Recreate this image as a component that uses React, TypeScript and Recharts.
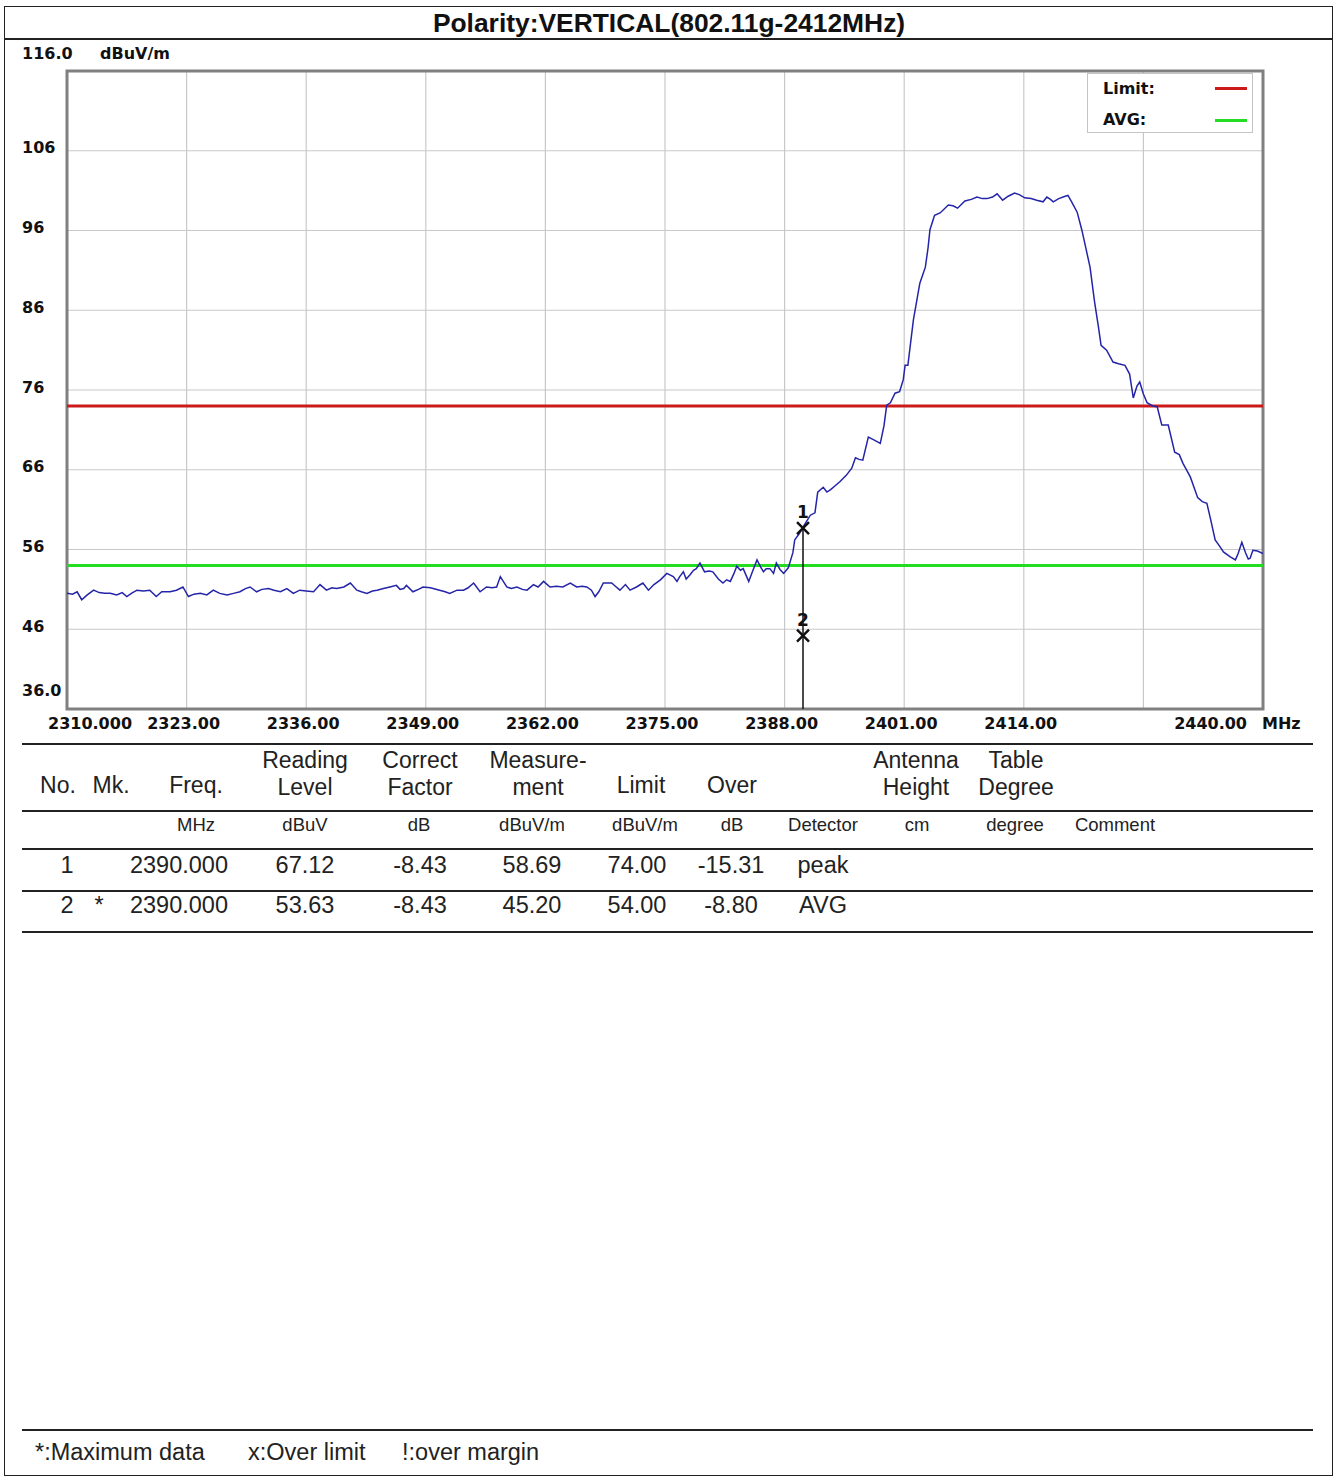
import {
  CartesianGrid,
  ComposedChart,
  Line,
  ReferenceArea,
  ReferenceLine,
  Scatter,
  XAxis,
  YAxis,
} from "recharts";

// trace (MHz, dBuV/m)
const traceFreq = [
  2310.0, 2310.6, 2311.1, 2311.6, 2312.2, 2312.9, 2313.5, 2314.1, 2314.7, 2315.4,
  2316.0, 2316.5, 2317.0, 2317.6, 2318.3, 2319.0, 2319.7, 2320.3, 2321.2, 2321.9,
  2322.6, 2323.2, 2323.8, 2324.5, 2325.2, 2325.9, 2326.6, 2327.4, 2328.1, 2328.8,
  2329.4, 2329.9, 2330.6, 2331.2, 2331.9, 2332.5, 2333.2, 2333.9, 2334.6, 2335.3,
  2336.0, 2336.8, 2337.5, 2338.2, 2338.8, 2339.3, 2340.1, 2340.8, 2341.5, 2342.0,
  2342.6, 2343.2, 2343.7, 2344.4, 2345.1, 2345.8, 2346.2, 2346.6, 2346.9, 2347.6,
  2348.2, 2348.7, 2349.5, 2350.5, 2351.1, 2351.6, 2352.4, 2353.1, 2353.6, 2354.2,
  2354.9, 2355.6, 2356.2, 2356.7, 2357.1, 2357.8, 2358.3, 2358.9, 2359.5, 2360.0,
  2360.7, 2361.2, 2361.8, 2362.5, 2363.2, 2363.9, 2364.7, 2365.4, 2366.0, 2366.5,
  2367.0, 2367.4, 2367.8, 2368.3, 2369.2, 2369.7, 2370.1, 2370.7, 2371.2, 2371.9,
  2372.6, 2373.2, 2373.8, 2374.5, 2375.2, 2375.9, 2376.3, 2376.6, 2377.0, 2377.3,
  2377.7, 2378.1, 2378.4, 2378.8, 2379.3, 2379.8, 2380.2, 2380.8, 2381.3, 2381.7,
  2382.1, 2382.5, 2382.8, 2383.2, 2383.5, 2384.1, 2384.5, 2385.0, 2385.4, 2385.7,
  2386.0, 2386.4, 2386.8, 2387.1, 2387.5, 2387.9, 2388.4, 2388.9, 2389.1, 2389.6,
  2390.0, 2390.8, 2391.3, 2391.6, 2392.2, 2392.6, 2393.0, 2393.4, 2394.0, 2394.7,
  2395.3, 2395.7, 2396.1, 2396.5, 2397.1, 2397.6, 2398.4, 2398.8, 2399.1, 2399.5,
  2400.0, 2400.5, 2400.9, 2401.1, 2401.4, 2402.0, 2402.7, 2403.3, 2403.6, 2403.8,
  2404.3, 2404.9, 2405.8, 2406.3, 2406.8, 2407.6, 2408.3, 2408.9, 2409.5, 2410.0,
  2410.6, 2411.1, 2411.7, 2412.3, 2413.0, 2413.5, 2414.1, 2414.8, 2415.4, 2416.1,
  2416.5, 2416.9, 2417.2, 2417.8, 2418.5, 2418.8, 2419.2, 2419.8, 2420.3, 2420.8,
  2421.2, 2421.7, 2422.1, 2422.4, 2423.0, 2423.7, 2424.3, 2425.0, 2425.5, 2425.9,
  2426.3, 2426.6, 2427.0, 2427.4, 2428.0, 2428.5, 2429.0, 2429.7, 2430.4, 2430.9,
  2431.3, 2432.1, 2432.9, 2433.4, 2433.9, 2434.3, 2434.8, 2435.3, 2435.7, 2436.4,
  2437.0, 2437.3, 2437.7, 2438.1, 2438.4, 2438.6, 2438.9, 2439.4, 2440.0,
];
const traceLevel = [
  50.5, 50.4, 50.7, 49.7, 50.3, 50.9, 50.6, 50.5, 50.5, 50.3,
  50.6, 50.1, 50.5, 50.9, 50.8, 50.9, 50.1, 50.7, 50.7, 50.9,
  51.3, 50.1, 50.4, 50.5, 50.3, 50.9, 50.5, 50.3, 50.5, 50.7,
  51.1, 51.3, 50.7, 51.0, 51.1, 50.9, 50.7, 51.1, 50.5, 50.9,
  50.8, 50.7, 51.6, 50.9, 51.2, 51.1, 51.3, 51.8, 50.9, 50.7,
  50.5, 50.8, 50.9, 51.1, 51.3, 51.5, 51.0, 51.1, 51.5, 50.7,
  51.0, 51.3, 51.2, 50.9, 50.7, 50.5, 50.9, 50.9, 51.2, 51.8,
  50.7, 51.3, 51.2, 51.3, 52.6, 51.3, 51.1, 51.3, 51.0, 50.9,
  51.6, 51.3, 52.0, 51.3, 51.4, 51.3, 51.8, 51.3, 51.4, 51.3,
  50.9, 50.1, 50.7, 51.8, 51.8, 51.3, 50.9, 51.6, 50.9, 51.3,
  51.8, 50.9, 51.6, 52.2, 53.0, 52.6, 52.0, 52.6, 53.2, 52.3,
  52.8, 53.4, 53.6, 54.3, 53.2, 53.3, 53.2, 52.3, 51.8, 52.2,
  52.0, 53.0, 53.9, 53.4, 53.6, 52.0, 53.2, 54.7, 53.8, 53.2,
  53.6, 53.6, 53.0, 54.3, 53.5, 53.0, 53.7, 55.6, 57.2, 58.0,
  58.8, 60.3, 60.6, 63.2, 63.8, 63.2, 63.5, 63.9, 64.5, 65.3,
  66.2, 67.5, 67.3, 67.2, 70.1, 69.8, 69.3, 71.5, 74.1, 74.4,
  75.6, 75.8, 77.3, 79.1, 79.1, 84.8, 89.4, 91.4, 93.9, 96.1,
  97.9, 98.2, 99.2, 99.1, 98.8, 99.7, 99.9, 100.2, 100.0, 100.0,
  100.2, 100.6, 99.8, 100.3, 100.7, 100.5, 100.1, 100.0, 99.8, 99.6,
  100.2, 99.9, 99.6, 100.0, 100.3, 100.4, 99.6, 98.3, 96.1, 93.5,
  91.4, 87.0, 84.0, 81.6, 81.0, 79.5, 79.3, 79.1, 78.0, 75.0,
  76.5, 77.0, 75.5, 74.4, 74.0, 73.9, 71.6, 71.6, 68.2, 67.9,
  66.8, 65.1, 62.5, 62.0, 61.8, 59.8, 57.2, 56.4, 55.7, 55.1,
  54.7, 55.5, 56.9, 55.6, 54.8, 54.9, 55.9, 55.8, 55.5,
];

const limitLevel = 74;
const avgLevel = 54;

const freqTicks = [2310, 2323, 2336, 2349, 2362, 2375, 2388, 2401, 2414, 2427, 2440];
const freqLabels = [
  "2310.000", "2323.00", "2336.00", "2349.00", "2362.00", "2375.00",
  "2388.00", "2401.00", "2414.00", "", "2440.00",
];
const levelTicks = [36, 46, 56, 66, 76, 86, 96, 106, 116];
const levelLabels = ["36.0", "46", "56", "66", "76", "86", "96", "106", "116.0"];

const markerNo = ["1", "2"];
const markerFreq = [2390.0, 2390.0];
const markerLevel = [58.69, 45.2];

const legendNames = ["Limit:", "AVG:"];
const legendColors = ["#cc1a1a", "#22dd22"];

const headerCells = [
  { x: 58, lines: ["No."] },
  { x: 111, lines: ["Mk."] },
  { x: 196, lines: ["Freq."] },
  { x: 305, lines: ["Reading", "Level"] },
  { x: 420, lines: ["Correct", "Factor"] },
  { x: 538, lines: ["Measure-", "ment"] },
  { x: 641, lines: ["Limit"] },
  { x: 732, lines: ["Over"] },
  { x: 916, lines: ["Antenna", "Height"] },
  { x: 1016, lines: ["Table", "Degree"] },
];
const unitCells = [
  { x: 196, t: "MHz" },
  { x: 305, t: "dBuV" },
  { x: 419, t: "dB" },
  { x: 532, t: "dBuV/m" },
  { x: 645, t: "dBuV/m" },
  { x: 732, t: "dB" },
  { x: 823, t: "Detector" },
  { x: 917, t: "cm" },
  { x: 1015, t: "degree" },
  { x: 1115, t: "Comment" },
];
const rowColumns = [67, 99, 179, 305, 420, 532, 637, 731, 823];
const tableRows = [
  ["1", "", "2390.000", "67.12", "-8.43", "58.69", "74.00", "-15.31", "peak"],
  ["2", "*", "2390.000", "53.63", "-8.43", "45.20", "54.00", "-8.80", "AVG"],
];
const footNotes = ["*:Maximum data", "x:Over limit", "!:over margin"];

const traceData = traceFreq.map((freq, i) => ({ freq, level: traceLevel[i] }));
const markerData = markerNo.map((no, i) => ({ no, freq: markerFreq[i], level: markerLevel[i] }));

const axisFont = "'DejaVu Sans', sans-serif";
const tableFont = "'Liberation Sans', Arial, sans-serif";

const FreqTick = ({ x, y, payload, index }: any) => {
  const n = freqTicks.length;
  const i = freqTicks.indexOf(payload?.value ?? freqTicks[index]);
  const anchor = i === 0 ? "start" : i === n - 1 ? "end" : "middle";
  const dx = i === 0 ? -19 : i === n - 1 ? -16 : -3;
  return (
    <text
      x={x + dx}
      y={y + 14}
      textAnchor={anchor}
      dominantBaseline="central"
      fontFamily={axisFont}
      fontWeight="bold"
      fontSize={16}
      fill="#111"
    >
      {freqLabels[i]}
    </text>
  );
};

const LevelTick = ({ x, y, payload }: any) => {
  const i = levelTicks.indexOf(payload?.value);
  const dy = i === levelTicks.length - 1 ? -18 : i === 0 ? -19 : -3;
  return (
    <text
      x={x - 45}
      y={y + dy}
      textAnchor="start"
      dominantBaseline="central"
      fontFamily={axisFont}
      fontWeight="bold"
      fontSize={16}
      fill="#111"
    >
      {levelLabels[i]}
    </text>
  );
};

const MarkerShape = (props: any) => {
  const { cx, cy, payload } = props;
  const s = 6;
  return (
    <g>
      <path
        d={`M${cx - s},${cy - s}L${cx + s},${cy + s}M${cx + s},${cy - s}L${cx - s},${cy + s}`}
        stroke="#111"
        strokeWidth={2.4}
      />
      <text
        x={cx}
        y={cy - 16}
        textAnchor="middle"
        dominantBaseline="central"
        fontFamily={axisFont}
        fontWeight="bold"
        fontSize={17}
        fill="#111"
      >
        {payload.no}
      </text>
    </g>
  );
};

const Centered = ({ x, y, size, children }: any) => (
  <div
    style={{
      position: "absolute",
      left: x,
      top: y,
      transform: "translate(-50%, -50%)",
      whiteSpace: "nowrap",
      fontFamily: tableFont,
      fontSize: size,
      color: "#222",
      lineHeight: 1,
    }}
  >
    {children}
  </div>
);

const Rule = ({ y, w = 1.5 }: { y: number; w?: number }) => (
  <div
    style={{
      position: "absolute",
      left: 22,
      top: y,
      width: 1291,
      height: w,
      background: "#222",
    }}
  />
);

export default function App() {
  return (
    <div
      style={{
        position: "absolute",
        left: 0,
        top: 0,
        width: 1338,
        height: 1479,
        background: "#fff",
        overflow: "hidden",
      }}
    >
      {/* outer frame and title row */}
      <div
        style={{
          position: "absolute",
          left: 4,
          top: 6,
          width: 1329,
          height: 1470,
          border: "1.5px solid #222",
          boxSizing: "border-box",
        }}
      />
      <div style={{ position: "absolute", left: 4, top: 38, width: 1329, height: 1.5, background: "#222" }} />
      <div
        style={{
          position: "absolute",
          left: 669,
          top: 23,
          transform: "translate(-50%, -50%)",
          fontFamily: tableFont,
          fontWeight: "bold",
          fontSize: 26.4,
          color: "#111",
          whiteSpace: "nowrap",
        }}
      >
        Polarity:VERTICAL(802.11g-2412MHz)
      </div>

      <div style={{ position: "absolute", left: 0, top: 0 }}>
        <ComposedChart
          width={1338}
          height={760}
          margin={{ top: 71, left: 17, right: 75, bottom: 21 }}
        >
          <CartesianGrid stroke="#c8c8c8" strokeWidth={1.2} />
          <XAxis
            type="number"
            dataKey="freq"
            domain={[2310, 2440]}
            ticks={freqTicks}
            interval={0}
            height={30}
            axisLine={false}
            tickLine={false}
            tickSize={0}
            tickMargin={0}
            tick={FreqTick}
            allowDataOverflow
            label={({ viewBox }: any) => (
              <text
                x={viewBox.x + viewBox.width - 1}
                y={viewBox.y + 14}
                dominantBaseline="central"
                fontFamily={axisFont}
                fontWeight="bold"
                fontSize={16}
                fill="#111"
              >
                MHz
              </text>
            )}
          />
          <YAxis
            type="number"
            domain={[36, 116]}
            ticks={levelTicks}
            interval={0}
            width={50}
            axisLine={false}
            tickLine={false}
            tickSize={0}
            tickMargin={0}
            tick={LevelTick}
            allowDataOverflow
            label={({ viewBox }: any) => (
              <text
                x={viewBox.x + viewBox.width + 33}
                y={viewBox.y - 18}
                dominantBaseline="central"
                fontFamily={axisFont}
                fontWeight="bold"
                fontSize={16}
                fill="#111"
              >
                dBuV/m
              </text>
            )}
          />
          <ReferenceLine y={limitLevel} stroke={legendColors[0]} strokeWidth={3} />
          <ReferenceLine y={avgLevel} stroke={legendColors[1]} strokeWidth={3} />
          <ReferenceLine
            segment={[
              { x: markerFreq[0], y: markerLevel[0] },
              { x: markerFreq[0], y: 36 },
            ]}
            stroke="#111"
            strokeWidth={1.5}
          />
          <Line
            data={traceData}
            dataKey="level"
            type="linear"
            stroke="#2424a8"
            strokeWidth={1.5}
            dot={false}
            activeDot={false}
            isAnimationActive={false}
          />
          <Scatter
            data={markerData}
            dataKey="level"
            shape={MarkerShape}
            isAnimationActive={false}
          />
          <ReferenceArea
            x1={2310}
            x2={2440}
            y1={36}
            y2={116}
            fill="none"
            fillOpacity={0}
            stroke="#808080"
            strokeWidth={3}
          />
        </ComposedChart>
      </div>

      {/* legend box */}
      <div
        style={{
          position: "absolute",
          left: 1087,
          top: 73,
          width: 166,
          height: 60,
          background: "#fff",
          border: "1px solid #c4c4c4",
          boxSizing: "border-box",
        }}
      >
        {legendNames.map((name, i) => (
          <div key={name}>
            <div
              style={{
                position: "absolute",
                left: 15,
                top: 14 + i * 31,
                transform: "translateY(-50%)",
                fontFamily: axisFont,
                fontWeight: "bold",
                fontSize: 16,
                color: "#111",
              }}
            >
              {name}
            </div>
            <div
              style={{
                position: "absolute",
                left: 127,
                top: 13 + i * 32,
                width: 32,
                height: 3,
                background: legendColors[i],
              }}
            />
          </div>
        ))}
      </div>

      {/* result table */}
      <Rule y={743} w={2} />
      {headerCells.map((c) =>
        c.lines.length === 2 ? (
          <div key={c.x}>
            <Centered x={c.x} y={760} size={23}>{c.lines[0]}</Centered>
            <Centered x={c.x} y={787} size={23}>{c.lines[1]}</Centered>
          </div>
        ) : (
          <Centered key={c.x} x={c.x} y={785} size={23}>{c.lines[0]}</Centered>
        )
      )}
      <Rule y={810} />
      {unitCells.map((c, i) => (
        <Centered key={i} x={c.x} y={825} size={18.5}>{c.t}</Centered>
      ))}
      <Rule y={848} />
      {tableRows.map((row, r) =>
        row.map((cell, c) => (
          <Centered key={`${r}-${c}`} x={rowColumns[c]} y={866 + r * 40} size={23.5}>
            {cell}
          </Centered>
        ))
      )}
      <Rule y={890} />
      <Rule y={931} />

      {/* footnotes */}
      <Rule y={1429} />
      {footNotes.map((t, i) => (
        <div
          key={t}
          style={{
            position: "absolute",
            left: [35, 248, 402][i],
            top: 1453,
            transform: "translateY(-50%)",
            fontFamily: tableFont,
            fontSize: 23.5,
            color: "#222",
            whiteSpace: "nowrap",
            lineHeight: 1,
          }}
        >
          {t}
        </div>
      ))}
    </div>
  );
}
